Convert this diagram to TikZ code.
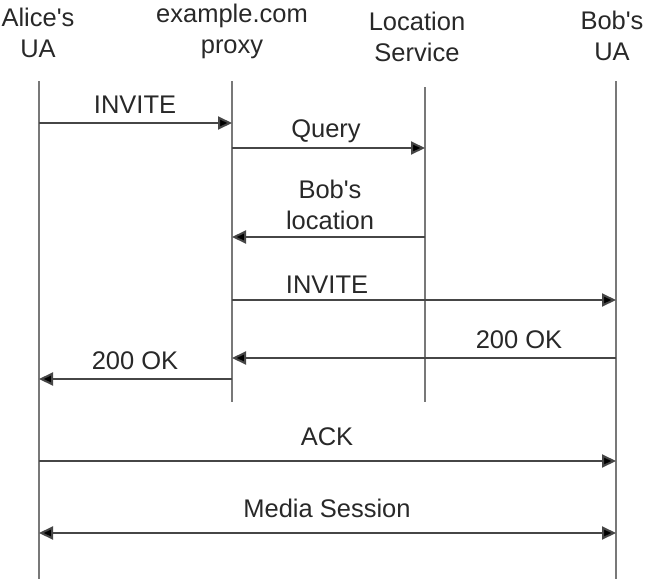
\documentclass[tikz,border=0pt]{standalone}
\usepackage{fontspec}
\setmainfont{Liberation Sans}[Ligatures=TeXOff]
\usetikzlibrary{arrows.meta}
\definecolor{lifegray}{RGB}{120,120,120}
\definecolor{msggray}{RGB}{70,70,70}
\definecolor{txt}{RGB}{40,40,40}
\begin{document}
\begin{tikzpicture}[x=1pt,y=-1pt,
  hdr/.style={align=center,font=\fontsize{25.5}{31}\selectfont,text=txt,inner sep=0pt},
  lbl/.style={align=center,font=\fontsize{25.5}{31}\selectfont,text=txt,inner sep=0pt},
  life/.style={draw=lifegray,line width=2.2pt},
  msg/.style={draw=msggray,line width=2pt,-{Triangle[length=14pt,width=13pt,fill=black]}},
  bimsg/.style={draw=msggray,line width=2pt,{Triangle[length=14pt,width=13pt,fill=black]}-{Triangle[length=14pt,width=13pt,fill=black]}}
]
\useasboundingbox (0,0) rectangle (649,579);
% headers
\node[hdr] (alice) at (38,33) {Alice's\\UA};
\node[hdr] (proxy) at (232,31) {example.com\\proxy};
\node[hdr] (loc) at (417,37) {Location\\Service};
\node[hdr] (bob) at (612,36) {Bob's\\UA};
% lifeline ends
\coordinate (aT) at (39,81);  \coordinate (aB) at (39,579);
\coordinate (pT) at (232,81); \coordinate (pB) at (232,402);
\coordinate (lT) at (425,87); \coordinate (lB) at (425,402);
\coordinate (bT) at (616,81); \coordinate (bB) at (616,579);
\draw[life] (aT) -- (aB);
\draw[life] (pT) -- (pB);
\draw[life] (lT) -- (lB);
\draw[life] (bT) -- (bB);
% message endpoints
\coordinate (a1) at (39,123);  \coordinate (p1) at (232,123);
\coordinate (p2) at (232,148); \coordinate (l2) at (425,148);
\coordinate (l3) at (425,237); \coordinate (p3) at (232,237);
\coordinate (p4) at (232,300); \coordinate (b4) at (616,300);
\coordinate (b5) at (616,358); \coordinate (p5) at (232,358);
\coordinate (p6) at (232,379); \coordinate (a6) at (39,379);
\coordinate (a7) at (39,461);  \coordinate (b7) at (616,461);
\coordinate (a8) at (39,533);  \coordinate (b8) at (616,533);
\draw[msg] (a1) -- (p1);
\draw[msg] (p2) -- (l2);
\draw[msg] (l3) -- (p3);
\draw[msg] (p4) -- (b4);
\draw[msg] (b5) -- (p5);
\draw[msg] (p6) -- (a6);
\draw[msg] (a7) -- (b7);
\draw[bimsg] (a8) -- (b8);
% labels
\node[lbl] (t1) at (135,105) {INVITE};
\node[lbl] (t2) at (326,131) {Query};
\node[lbl] (t3) at (330,205) {Bob's\\location};
\node[lbl] (t4) at (327,285) {INVITE};
\node[lbl] (t5) at (519,340) {200 OK};
\node[lbl] (t6) at (135,361) {200 OK};
\node[lbl] (t7) at (327,437) {ACK};
\node[lbl] (t8) at (327,508) {Media Session};
\end{tikzpicture}
\end{document}
